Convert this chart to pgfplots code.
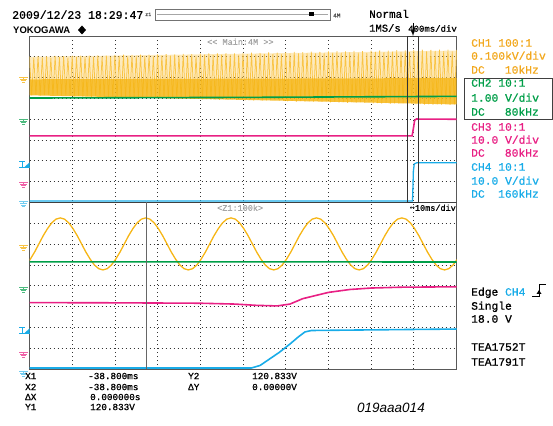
\documentclass[border=0pt]{standalone}
\usepackage{pgfplots}
\pgfplotsset{compat=1.18}
\usepackage{fontspec}
\setmainfont{Liberation Sans}
\newfontfamily\mono[FakeBold=0.9]{Liberation Mono}
\newfontfamily\dvmono{DejaVu Sans Mono}
\definecolor{ch1}{RGB}{246,182,22}
\definecolor{ch1l}{RGB}{249,196,70}
\definecolor{ch1t}{RGB}{242,168,30}
\definecolor{ch2}{RGB}{0,158,72}
\definecolor{ch3}{RGB}{232,32,132}
\definecolor{ch4}{RGB}{25,172,232}
\newcommand\fs[1]{\fontsize{#1}{#1}\selectfont}
% ground marker at level #1 (picture pt), colour #2
\newcommand\gnd[2]{%
  \draw[#2, line width=0.8pt] (19,#1)--(28,#1) (23.5,#1)--(23.5,#1-2);
  \draw[#2, line width=0.8pt] (20,#1-2)--(27,#1-2) (21,#1-3.5)--(26,#1-3.5) (22.3,#1-5)--(24.7,#1-5);}
\newcommand\trig[2]{%
  \draw[#2, line width=0.8pt] (19,#1)--(25,#1) (22,#1)--(22,#1-6) (19,#1-6)--(30,#1-6);
  \fill[#2] (24.5,#1-6)--(29.5,#1-6)--(29.5,#1-1.5)--cycle;}
\begin{document}
\begin{tikzpicture}[x=1pt,y=1pt]
\path[use as bounding box] (0,0) rectangle (553,425);
\begin{axis}[
  at={(29.5pt,56pt)}, anchor=south west,
  width=427pt, height=333pt, scale only axis,
  xmin=0, xmax=10, ymin=0, ymax=16,
  xtick={1,...,9}, ytick={1,...,15},
  xticklabels={}, yticklabels={},
  major tick length=0pt,
  xmajorgrids, ymajorgrids,
  major grid style={black!80, line width=0.8pt, dash pattern=on 0.8pt off 3.2pt},
  axis line style={black!65, line width=0.9pt},
]
% ---- main window (top), 400ms/div
% pale body of the CH1 band
\addplot[draw=none, fill=ch1l, fill opacity=0.35] coordinates {(0,15.00) (10,15.30) (10,13.98) (0,13.92)} -- cycle;
% CH1 mains, aliased
\addplot[ch1l, line width=0.75pt] coordinates {
(0.00,15.02)(0.05,13.15)(0.10,14.96)(0.15,13.17)(0.20,15.03)(0.25,13.14)(0.30,14.97)(0.35,13.16)(0.40,15.02)(0.45,13.15)(0.50,14.95)(0.55,13.13)(0.60,15.04)(0.65,13.16)(0.70,14.98)(0.75,13.14)(0.80,15.03)(0.85,13.15)(0.90,14.96)(0.95,13.12)
(1.00,15.05)(1.05,13.10)(1.10,14.99)(1.15,13.12)(1.20,15.06)(1.25,13.09)(1.30,15.00)(1.35,13.11)(1.40,15.05)(1.45,13.08)(1.50,14.98)(1.55,13.10)(1.60,15.07)(1.65,13.09)(1.70,15.01)(1.75,13.11)(1.80,15.06)(1.85,13.08)(1.90,14.99)(1.95,13.10)
(2.00,15.09)(2.05,13.05)(2.10,15.03)(2.15,13.07)(2.20,15.10)(2.25,13.04)(2.30,15.02)(2.35,13.06)(2.40,15.09)(2.45,13.03)(2.50,15.04)(2.55,13.05)(2.60,15.11)(2.65,13.04)(2.70,15.03)(2.75,13.06)(2.80,15.10)(2.85,13.03)(2.90,15.02)(2.95,13.05)
(3.00,15.12)(3.05,13.00)(3.10,15.06)(3.15,13.02)(3.20,15.13)(3.25,12.99)(3.30,15.05)(3.35,13.01)(3.40,15.12)(3.45,12.98)(3.50,15.07)(3.55,13.00)(3.60,15.14)(3.65,12.99)(3.70,15.06)(3.75,13.01)(3.80,15.13)(3.85,12.98)(3.90,15.05)(3.95,13.00)
(4.00,15.16)(4.05,12.95)(4.10,15.10)(4.15,12.97)(4.20,15.17)(4.25,12.94)(4.30,15.09)(4.35,12.96)(4.40,15.16)(4.45,12.93)(4.50,15.11)(4.55,12.95)(4.60,15.18)(4.65,12.94)(4.70,15.10)(4.75,12.96)(4.80,15.17)(4.85,12.93)(4.90,15.09)(4.95,12.95)
(5.00,15.19)(5.05,12.91)(5.10,15.13)(5.15,12.93)(5.20,15.20)(5.25,12.90)(5.30,15.12)(5.35,12.92)(5.40,15.19)(5.45,12.89)(5.50,15.14)(5.55,12.91)(5.60,15.21)(5.65,12.90)(5.70,15.13)(5.75,12.92)(5.80,15.20)(5.85,12.89)(5.90,15.12)(5.95,12.91)
(6.00,15.23)(6.05,12.86)(6.10,15.17)(6.15,12.88)(6.20,15.24)(6.25,12.85)(6.30,15.16)(6.35,12.87)(6.40,15.23)(6.45,12.84)(6.50,15.18)(6.55,12.86)(6.60,15.25)(6.65,12.85)(6.70,15.17)(6.75,12.87)(6.80,15.24)(6.85,12.84)(6.90,15.16)(6.95,12.86)
(7.00,15.26)(7.05,12.81)(7.10,15.20)(7.15,12.83)(7.20,15.27)(7.25,12.80)(7.30,15.19)(7.35,12.82)(7.40,15.26)(7.45,12.79)(7.50,15.21)(7.55,12.81)(7.60,15.28)(7.65,12.80)(7.70,15.20)(7.75,12.82)(7.80,15.27)(7.85,12.79)(7.90,15.19)(7.95,12.81)
(8.00,15.30)(8.05,12.76)(8.10,15.24)(8.15,12.78)(8.20,15.31)(8.25,12.75)(8.30,15.23)(8.35,12.77)(8.40,15.30)(8.45,12.74)(8.50,15.25)(8.55,12.76)(8.60,15.32)(8.65,12.75)(8.70,15.24)(8.75,12.77)(8.80,15.31)(8.85,12.74)(8.90,15.23)(8.95,12.76)
(9.00,15.33)(9.05,12.71)(9.10,15.27)(9.15,12.73)(9.20,15.34)(9.25,12.70)(9.30,15.26)(9.35,12.72)(9.40,15.33)(9.45,12.69)(9.50,15.28)(9.55,12.71)(9.60,15.35)(9.65,12.70)(9.70,15.27)(9.75,12.72)(9.80,15.34)(9.85,12.69)(9.90,15.26)(9.95,12.71)(10.00,15.33)
};
% denser lower part of the CH1 band
\addplot[draw=none, fill=ch1, fill opacity=0.85] coordinates {(0,13.92) (10,13.98) (10,12.71) (0,13.15)} -- cycle;
% CH2
\addplot[ch2, line width=1.6pt] coordinates {(0,13.02) (5,13.05) (10,13.10)};
% CH3
\addplot[ch3, line width=1.6pt] coordinates {(0,11.20) (8.96,11.20) (8.99,11.55) (9.02,11.95) (9.06,12.01) (10,12.00)};
\draw[black!75, line width=0.9pt] (axis cs:0,8) -- (axis cs:10,8);
% CH4
\addplot[ch4, line width=1.3pt] coordinates {(0,8.07) (8.97,8.07) (8.99,9.50) (9.01,9.85) (9.07,9.91) (10,9.91)};
% zoom box
\draw[black!80, line width=0.8pt] (axis cs:8.84,8) rectangle (axis cs:9.10,16);
% ---- zoom window (bottom), 10ms/div
\addplot[ch1, line width=1.3pt] coordinates {
(0.00,5.22)(0.02,5.28)(0.12,5.62)(0.22,6.01)(0.32,6.40)(0.42,6.74)(0.52,7.02)(0.62,7.20)(0.72,7.26)(0.82,7.20)(0.92,7.02)(1.02,6.74)(1.12,6.40)(1.22,6.01)(1.32,5.62)(1.42,5.28)(1.52,5.00)(1.62,4.82)(1.72,4.76)(1.82,4.82)(1.92,5.00)
(2.02,5.28)(2.12,5.62)(2.22,6.01)(2.32,6.40)(2.42,6.74)(2.52,7.02)(2.62,7.20)(2.72,7.26)(2.82,7.20)(2.92,7.02)(3.02,6.74)(3.12,6.40)(3.22,6.01)(3.32,5.62)(3.42,5.28)(3.52,5.00)(3.62,4.82)(3.72,4.76)(3.82,4.82)(3.92,5.00)
(4.02,5.28)(4.12,5.62)(4.22,6.01)(4.32,6.40)(4.42,6.74)(4.52,7.02)(4.62,7.20)(4.72,7.26)(4.82,7.20)(4.92,7.02)(5.02,6.74)(5.12,6.40)(5.22,6.01)(5.32,5.62)(5.42,5.28)(5.52,5.00)(5.62,4.82)(5.72,4.76)(5.82,4.82)(5.92,5.00)
(6.02,5.28)(6.12,5.62)(6.22,6.01)(6.32,6.40)(6.42,6.74)(6.52,7.02)(6.62,7.20)(6.72,7.26)(6.82,7.20)(6.92,7.02)(7.02,6.74)(7.12,6.40)(7.22,6.01)(7.32,5.62)(7.42,5.28)(7.52,5.00)(7.62,4.82)(7.72,4.76)(7.82,4.82)(7.92,5.00)
(8.02,5.28)(8.12,5.62)(8.22,6.01)(8.32,6.40)(8.42,6.74)(8.52,7.02)(8.62,7.20)(8.72,7.26)(8.82,7.20)(8.92,7.02)(9.02,6.74)(9.12,6.40)(9.22,6.01)(9.32,5.62)(9.42,5.28)(9.52,5.00)(9.62,4.82)(9.72,4.76)(9.82,4.82)(9.92,5.00)(10.02,5.28)
};
\addplot[ch2, line width=1.6pt] coordinates {(0,5.15) (5,5.15) (10,5.14)};
\addplot[ch3, line width=1.6pt] coordinates {(0,3.19) (2,3.18) (4,3.16) (4.8,3.12) (5.3,3.06) (5.8,3.03) (6.1,3.12) (6.4,3.38) (6.7,3.53) (7.0,3.68) (7.5,3.82) (8.0,3.89) (8.7,3.93) (10,3.95)};
\addplot[ch4, line width=1.6pt] coordinates {(0,0.05) (5.2,0.05) (5.4,0.17) (5.6,0.45) (5.85,0.8) (6.1,1.2) (6.3,1.55) (6.45,1.78) (6.6,1.85) (8,1.88) (10,1.92)};
% cursor
\draw[black!60, line width=0.9pt] (axis cs:2.73,0) -- (axis cs:2.73,8);
\end{axis}
% ---- markers left of the screen
\gnd{348}{ch1l}
\gnd{306}{ch2!70}
\trig{264}{ch4}
\gnd{243}{ch3!70}
\gnd{223.5}{ch4!60}
\gnd{180}{ch1l}
\gnd{138}{ch2!70}
\trig{98}{ch4}
\gnd{73}{ch3!70}
\gnd{54}{ch4!60}
% ---- header
\node[anchor=base west, inner sep=0, font=\mono\fs{11.5}] at (12,406.2) {2009/12/23 18:29:47};
\node[anchor=base west, inner sep=0, font=\mono\fs{5}, black!70] at (145,409) {z1};
\draw[black!55, line width=0.7pt] (155,405) rectangle (330,415.5);
\draw[black!35, line width=1.6pt] (157,410.3) -- (328,410.3);
\fill[black] (309,409) rectangle (314,412.5);
\node[anchor=base west, inner sep=0, font=\mono\fs{6}, black!70] at (333,407.5) {4M};
\node[anchor=base west, inner sep=0, font=\mono\fs{11}] at (369,407.2) {Normal};
\node[anchor=base west, inner sep=0, font=\mono\fs{10.5}] at (369,393.3) {1MS/s};
\node[anchor=base east, inner sep=0, font=\mono\fs{9}] at (457,393.3) {400ms/div};
\draw[black, line width=0.9pt, -latex] (413,402) -- (413,389);
\node[anchor=base west, inner sep=0, font=\bfseries\fs{9.5}] at (13,391.6) {YOKOGAWA};
\fill[black] (82,399.5) -- (86,395) -- (82,390.5) -- (78,395) -- cycle;
% ---- window labels
\node[anchor=base west, inner sep=0, font=\mono\fs{8.5}, black!35] at (207,380.2) {<< Main:4M >>};
\node[anchor=base west, inner sep=0, font=\mono\fs{8.5}, black!35] at (217,214.2) {<Z1:100k>};
\node[anchor=base east, inner sep=0, font=\mono\fs{8.5}] at (456,214.2) {{\dvmono ↔}10ms/div};
% ---- channel settings
\begin{scope}[every node/.style={inner sep=0, font=\mono\fs{11.3}}]
\node[anchor=base west, ch1t] at (471,378.3) {CH1 100:1};
\node[anchor=base west, ch1t] at (471,365.3) {0.100kV/div};
\node[anchor=base west, ch1t] at (471,351.3) {DC};
\node[anchor=base east, ch1t] at (539,351.3) {10kHz};
\node[anchor=base west, ch2] at (471,338.3) {CH2 10:1};
\node[anchor=base west, ch2] at (471,323.3) {1.00 V/div};
\node[anchor=base west, ch2] at (471,309.3) {DC};
\node[anchor=base east, ch2] at (539,309.3) {80kHz};
\node[anchor=base west, ch3] at (471,294.3) {CH3 10:1};
\node[anchor=base west, ch3] at (471,281.3) {10.0 V/div};
\node[anchor=base west, ch3] at (471,268.3) {DC};
\node[anchor=base east, ch3] at (539,268.3) {80kHz};
\node[anchor=base west, ch4] at (471,254.3) {CH4 10:1};
\node[anchor=base west, ch4] at (471,240.3) {10.0 V/div};
\node[anchor=base west, ch4] at (471,227.3) {DC};
\node[anchor=base east, ch4] at (539,227.3) {160kHz};
\node[anchor=base west] at (471,129.3) {Edge \textcolor{ch4}{CH4}};
\node[anchor=base west] at (471,115.3) {Single};
\node[anchor=base west] at (471,102.3) {18.0 V};
\node[anchor=base west] at (471,74.3) {TEA1752T};
\node[anchor=base west] at (471,59.3) {TEA1791T};
\end{scope}
\draw[black!75, line width=0.8pt] (464,347) rectangle (552,306);
\draw[black, line width=0.7pt] (532,129)--(539,129)--(539,141)--(546,141);
\fill[black] (536.5,131) -- (541.5,131) -- (539,135) -- cycle;
% ---- cursor readout
\begin{scope}[every node/.style={inner sep=0, anchor=base west, font=\mono\fs{9.3}}]
\node at (25,45.9) {X1};
\node at (88,45.9) {-38.800ms};
\node at (188,45.9) {Y2};
\node at (252,45.9) {120.833V};
\node at (25,34.9) {X2};
\node at (88,34.9) {-38.800ms};
\node at (188,34.9) {ΔY};
\node at (252,34.9) {0.00000V};
\node at (25,24.9) {ΔX};
\node at (90,24.9) {0.000000s};
\node at (25,14.9) {Y1};
\node at (90,14.9) {120.833V};
\end{scope}
\node[anchor=base west, inner sep=0, font=\itshape\fs{13.5}] at (357,13) {019aaa014};
\end{tikzpicture}
\end{document}
